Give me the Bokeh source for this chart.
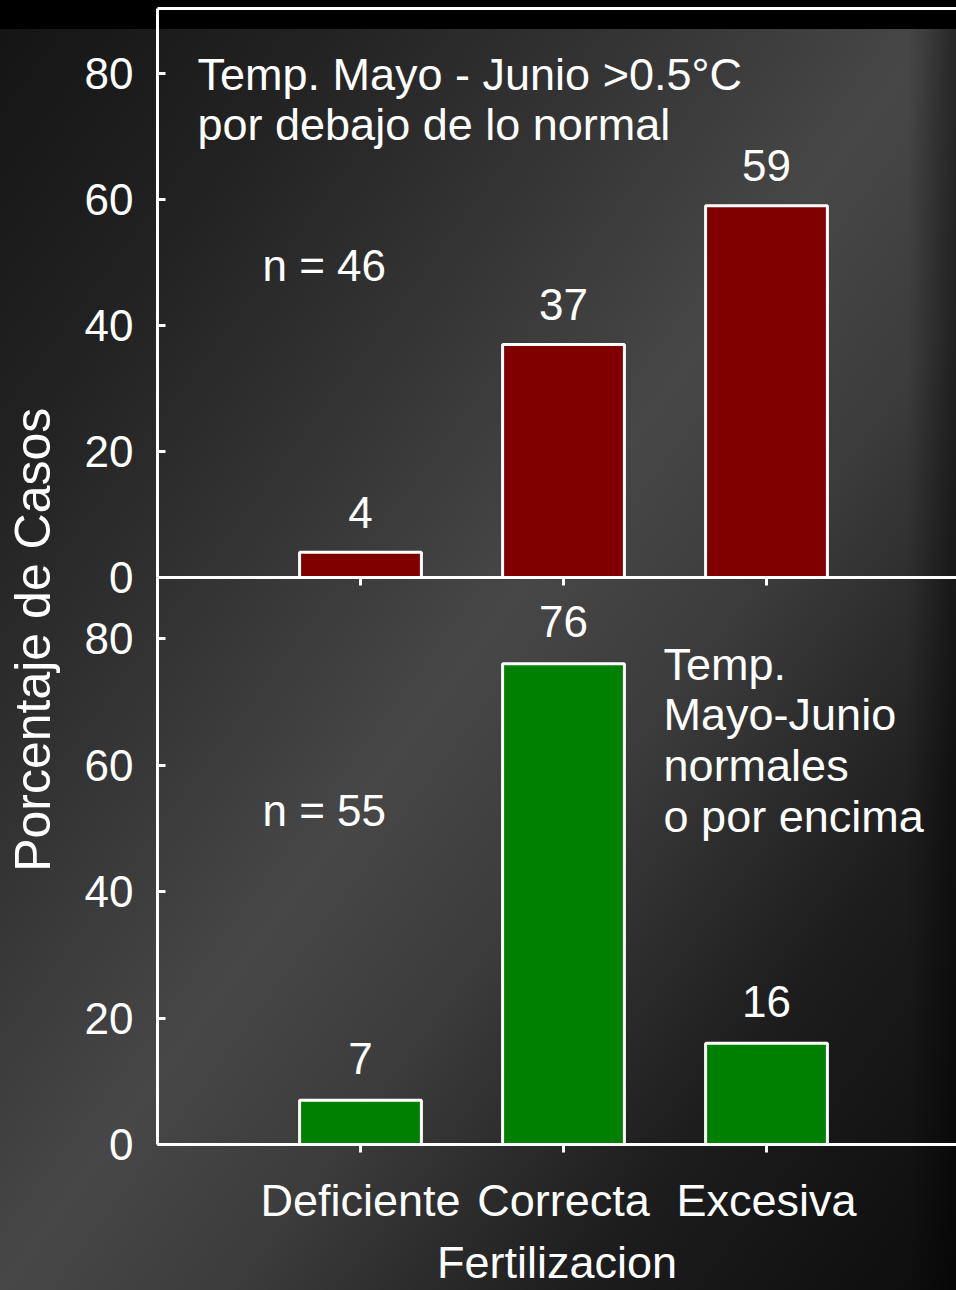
import math

from bokeh.core.properties import value
from bokeh.embed import file_html
from bokeh.models import FixedTicker, LinearAxis, Range1d
from bokeh.plotting import figure
from bokeh.resources import INLINE

# --- data -------------------------------------------------------------------
categories = ["Deficiente", "Correcta", "Excesiva"]
cold_pct = [4, 37, 59]    # Temp. Mayo-Junio >0.5 °C por debajo de lo normal
warm_pct = [7, 76, 16]    # Temp. Mayo-Junio normales o por encima
cold_n = 46
warm_n = 55
y_ticks = [0, 20, 40, 60, 80]

cold_title = ["Temp. Mayo - Junio >0.5°C", "por debajo de lo normal"]
warm_title = ["Temp.", "Mayo-Junio", "normales", "o por encima"]

# --- styling ----------------------------------------------------------------
FONT = "Liberation Sans"
WHITE = "#ffffff"
RED = "#800000"
GREEN = "#008000"

W, H = 956, 1290
positions = list(range(1, len(categories) + 1))

# The plotting frame covers the whole canvas; the two panels live in two
# y ranges and every axis is pinned with fixed_location.
X_START, X_END = -0.7734, 3.936
LOW_TOP = 89.64        # upper edge of the lower panel (lower-panel units)
UP_TOP = 90.32         # upper edge of the upper panel (upper-panel units)

p = figure(
    width=W, height=H,
    output_backend="svg", toolbar_location=None,
    x_range=Range1d(X_START, X_END),
    y_range=Range1d(-23.08, 180.87),          # lower panel
    x_axis_type=None, y_axis_type=None,
    min_border=0,
)
p.extra_y_ranges = {"top": Range1d(-113.17, 91.59)}   # upper panel
p.outline_line_color = None
p.background_fill_alpha = 0
p.border_fill_alpha = 0
p.styles = {
    "background": (
        "linear-gradient(to bottom, #000 0px, #000 29px, rgba(0,0,0,0) 29px),"
        "linear-gradient(to right, rgba(0,0,0,0) 95%, rgba(0,0,0,0.45) 100%),"
        "linear-gradient(to bottom right, #141414 0%, #222 18%, #343434 34%,"
        " #474747 50%, #3c3c3c 62%, #1d1d1d 80%, #0c0c0c 100%)"
    )
}


def style_axis(ax, size="44px"):
    ax.axis_line_color = WHITE
    ax.axis_line_width = 3
    ax.major_tick_line_color = WHITE
    ax.major_tick_line_width = 3
    ax.minor_tick_line_color = None
    ax.major_label_text_color = WHITE
    ax.major_label_text_font = FONT
    ax.major_label_text_font_size = size


# lower panel y axis
y_low = LinearAxis(ticker=FixedTicker(ticks=y_ticks), fixed_location=0, bounds=(0, LOW_TOP))
style_axis(y_low)
y_low.major_tick_in = 8
y_low.major_tick_out = 0
y_low.major_label_standoff = 24
p.add_layout(y_low, "left")

# upper panel y axis on the same edge
y_up = LinearAxis(y_range_name="top", ticker=FixedTicker(ticks=y_ticks),
                  fixed_location=0, bounds=(0, UP_TOP))
style_axis(y_up)
y_up.major_tick_in = 8
y_up.major_tick_out = 0
y_up.major_label_standoff = 24
p.add_layout(y_up, "left")

# lower panel x axis with the category names
x_low = LinearAxis(
    ticker=FixedTicker(ticks=positions),
    major_label_overrides={pos: name for pos, name in zip(positions, categories)},
    axis_label="Fertilizacion",
    fixed_location=0, bounds=(0, X_END),
)
style_axis(x_low, "45px")
x_low.major_tick_in = 0
x_low.major_tick_out = 8
x_low.major_label_standoff = 22
x_low.axis_label_text_color = WHITE
x_low.axis_label_text_font = FONT
x_low.axis_label_text_font_size = "45px"
x_low.axis_label_text_font_style = "normal"
x_low.axis_label_standoff = 8
p.add_layout(x_low, "below")

# upper panel baseline with its ticks (no labels)
x_up = LinearAxis(y_range_name="top", ticker=FixedTicker(ticks=positions),
                  fixed_location=0, bounds=(0, X_END))
style_axis(x_up)
x_up.major_tick_in = 0
x_up.major_tick_out = 8
x_up.major_label_text_color = None
p.add_layout(x_up, "below")

# top border of the upper panel
top_edge = LinearAxis(y_range_name="top", ticker=FixedTicker(ticks=[]),
                      fixed_location=UP_TOP, bounds=(0, X_END))
style_axis(top_edge)
top_edge.major_tick_line_color = None
top_edge.major_label_text_color = None
p.add_layout(top_edge, "above")

# --- bars -------------------------------------------------------------------
p.vbar(x=positions, top=cold_pct, width=0.6, y_range_name="top",
       fill_color=RED, line_color=WHITE, line_width=3)
p.vbar(x=positions, top=warm_pct, width=0.6,
       fill_color=GREEN, line_color=WHITE, line_width=3)

txt = dict(text_color=WHITE, text_font=value(FONT))

p.text(x=positions, y=cold_pct, text=[str(v) for v in cold_pct], y_range_name="top",
       text_align="center", text_baseline="alphabetic", y_offset=-40,
       text_font_size="44px", **txt)
p.text(x=positions, y=warm_pct, text=[str(v) for v in warm_pct],
       text_align="center", text_baseline="alphabetic", y_offset=-42,
       text_font_size="44px", **txt)

# --- panel notes ------------------------------------------------------------
p.text(x=[0.197, 0.197], y=[77.3, 69.4], text=cold_title, y_range_name="top",
       text_align="left", text_baseline="alphabetic", y_offset=-16,
       text_font_size="45px", **txt)
p.text(x=[0.517], y=[47.0], text=[f"n = {cold_n}"], y_range_name="top",
       text_align="left", text_baseline="alphabetic", y_offset=-16,
       text_font_size="44px", **txt)

p.text(x=[2.493] * 4, y=[73.7, 65.8, 57.7, 49.6], text=warm_title,
       text_align="left", text_baseline="alphabetic", y_offset=-14,
       text_font_size="45px", **txt)
p.text(x=[0.517], y=[50.3], text=[f"n = {warm_n}"],
       text_align="left", text_baseline="alphabetic", y_offset=-16,
       text_font_size="44px", **txt)

# shared y-axis title spanning both panels
p.text(x=[-0.611], y=[79.8], text=["Porcentaje de Casos"], angle=math.pi / 2,
       text_align="center", text_baseline="middle", text_font_size="50px", **txt)

open("out.html", "w").write(file_html(p, INLINE))
